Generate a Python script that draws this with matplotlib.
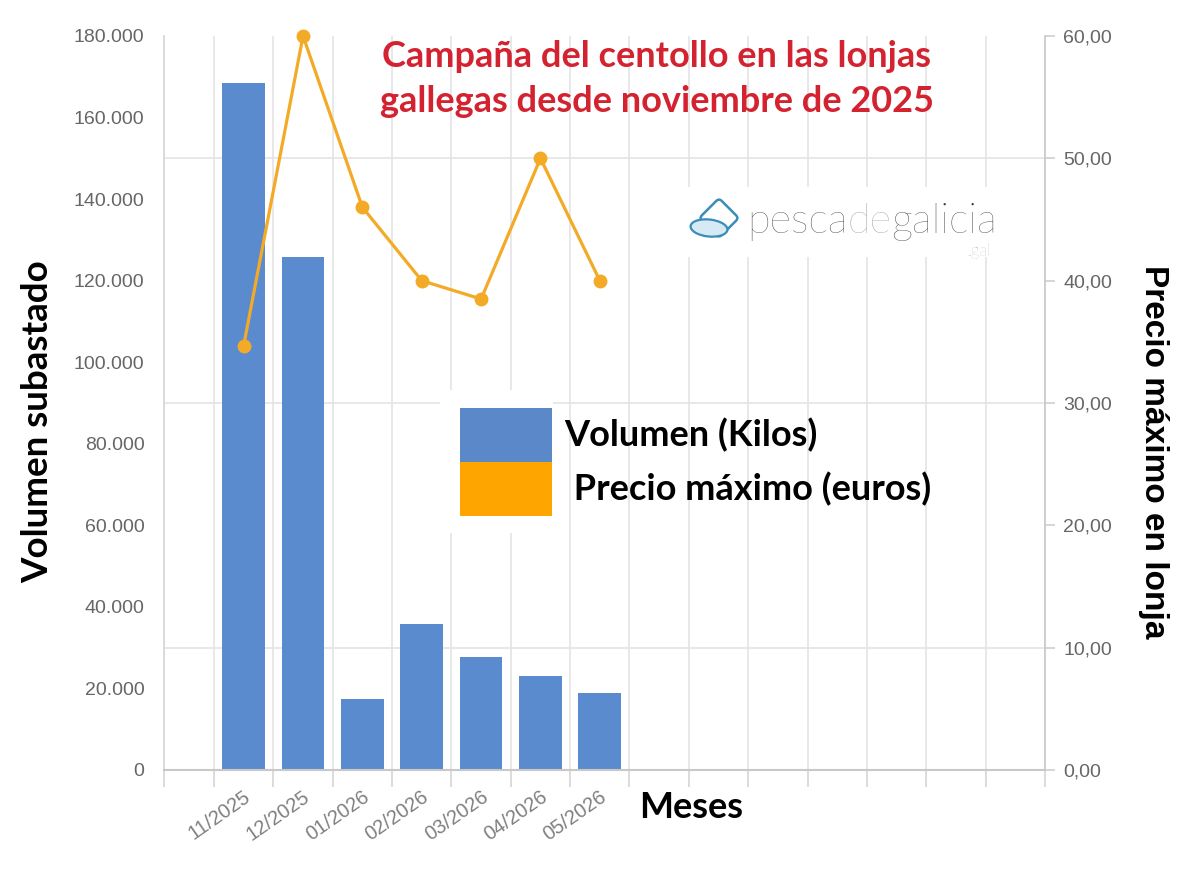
import numpy as np
import matplotlib
matplotlib.use("Agg")
import matplotlib.pyplot as plt
import matplotlib.transforms as mtrans
from matplotlib.ticker import FixedLocator, MultipleLocator, FuncFormatter
from matplotlib.patches import Patch, Rectangle, FancyBboxPatch, Ellipse
from matplotlib.offsetbox import TextArea, HPacker, AnnotationBbox

# ---------------- data ----------------
months = ["11/2025", "12/2025", "01/2026", "02/2026", "03/2026", "04/2026", "05/2026"]
volumen = [168500, 125800, 17500, 35900, 27700, 23100, 18900]
precio = [34.7, 60.0, 46.0, 40.0, 38.5, 50.0, 40.0]

title = "Campaña del centollo en las lonjas\ngallegas desde noviembre de 2025"
ylabel_left = "Volumen subastado"
ylabel_right = "Precio máximo en lonja"
xlabel = "Meses"
legend_labels = ["Volumen (Kilos)", " Precio máximo (euros)"]

# ---------------- style ----------------
BLUE = "#5B8BCF"
ORANGE = "#F3AA26"
LEG_BLUE = "#5A88C9"
LEG_ORANGE = "#FFA500"
GRID = "#E4E4E4"
TICKC = "#666666"
RED = "#D42330"

W, H = 1200, 873
fig = plt.figure(figsize=(W / 100, H / 100), dpi=100)
PX = mtrans.Affine2D().scale(1 / W, 1 / H) + fig.transFigure


def fy(y):
    return H - y


ax = fig.add_axes([164 / W, 1 - 770 / H, (1045 - 164) / W, (770 - 36) / H])

n_slots = 14
left_extra = 50 / 59.36
x = np.arange(len(months))

ax.bar(x, volumen, width=0.72, color=BLUE, zorder=2)
ax.set_ylim(0, 180000)
ax.set_xlim(-0.5 - left_extra, n_slots - 0.5)
ax.set_axisbelow(True)

# y axis (left)
ax.yaxis.set_major_locator(MultipleLocator(20000))
ax.yaxis.set_minor_locator(MultipleLocator(30000))
ax.yaxis.set_major_formatter(FuncFormatter(lambda v, p: f"{int(round(v)):,}".replace(",", ".")))
ax.tick_params(axis="y", which="major", length=0, pad=14, labelsize=14, labelcolor=TICKC)
ax.tick_params(axis="y", which="minor", length=0)
ax.grid(axis="y", which="minor", color=GRID, lw=1.2)
for lab in ax.get_yticklabels():
    lab.set_fontfamily("Liberation Sans")

# x axis
minor_x = [-0.5 - left_extra] + list(np.arange(-0.5, n_slots, 1.0))
ax.xaxis.set_minor_locator(FixedLocator(minor_x))
ax.set_xticks(x)
ax.set_xticklabels(months, rotation=35, ha="right", va="center", rotation_mode="anchor",
                   fontsize=14.5, color="#808080", family="Liberation Sans")
ax.tick_params(axis="x", which="major", length=0, pad=18)
ax.tick_params(axis="x", which="minor", length=12.5, color="#D6D6D6", width=1.2, direction="out")
ax.grid(axis="x", which="minor", color=GRID, lw=1.2)
offset = mtrans.ScaledTranslation(5 / 100, 0, fig.dpi_scale_trans)
for lab in ax.get_xticklabels():
    lab.set_transform(lab.get_transform() + offset)

ax.spines["top"].set_visible(False)
ax.spines["right"].set_visible(False)
ax.spines["bottom"].set_color("#C8C8C8")
ax.spines["bottom"].set_linewidth(1.5)
ax.spines["left"].set_color("#D6D6D6")
ax.spines["left"].set_linewidth(1.2)

# secondary axis (price)
ax2 = ax.twinx()
ax2.plot(x, precio, color=ORANGE, lw=2.3, marker="o", ms=9, zorder=3, clip_on=False)
ax2.set_ylim(0, 60)
ax2.yaxis.set_major_locator(MultipleLocator(10))
ax2.yaxis.set_major_formatter(FuncFormatter(lambda v, p: f"{v:.2f}".replace(".", ",")))
ax2.tick_params(axis="y", length=7, color="#D0D0D0", width=1.2, pad=6, labelsize=14, labelcolor=TICKC)
for lab in ax2.get_yticklabels():
    lab.set_fontfamily("Liberation Sans")
for s in ["top", "left", "bottom"]:
    ax2.spines[s].set_visible(False)
ax2.spines["right"].set_color("#C8C8C8")
ax2.spines["right"].set_linewidth(1.2)

# white boxes (behind legend keys and logo)
ax.add_patch(Rectangle((440, fy(533)), 113, 143, transform=PX, facecolor="white",
                       edgecolor="none", zorder=1))
ax.add_patch(Rectangle((680, fy(257)), 330, 70, transform=PX, facecolor="white",
                       edgecolor="none", zorder=1))

# legend: square keys stacked without gap
fs_leg = 26
fs_px = fs_leg * 100 / 72
key_w, key_h = 92, 54
hh = (key_h / fs_px - 0.245) / 0.65
handles = [Patch(facecolor=LEG_BLUE, edgecolor="none"), Patch(facecolor=LEG_ORANGE, edgecolor="none")]
leg = ax2.legend(handles, legend_labels, loc="upper left",
                 bbox_to_anchor=(460 / W, 1 - 408 / H), bbox_transform=fig.transFigure,
                 frameon=False, borderpad=0, borderaxespad=0, labelspacing=0,
                 handlelength=key_w / fs_px, handleheight=hh,
                 handletextpad=0.35,
                 prop=dict(family="Lato", weight="bold", size=fs_leg))

# titles
fig.text(657 / W, 1 - 79 / H, title, ha="center", va="center", color=RED,
         fontsize=26, family="Lato", weight="bold", linespacing=1.45)
fig.text(38 / W, 1 - 422 / H, ylabel_left, rotation=90, ha="center", va="center",
         fontsize=26.5, family="Lato", weight="bold", color="black")
fig.text(1153 / W, 1 - 452 / H, ylabel_right, rotation=270, ha="center", va="center",
         fontsize=24, family="Liberation Sans", weight="bold", color="black")
fig.text(691 / W, 1 - 808 / H, xlabel, ha="center", va="center",
         fontsize=26, family="Lato", weight="bold", color="black")

# logo
tp = dict(fontsize=30, family="Lato", weight="light")
box = HPacker(children=[TextArea("pesca", textprops=dict(color="#3C3C3C", **tp)),
                        TextArea("de", textprops=dict(color="#9A9A9A", **tp)),
                        TextArea("galicia", textprops=dict(color="#3C3C3C", **tp))],
              align="baseline", pad=0, sep=0)
ab = AnnotationBbox(box, (747 / W, 1 - 241 / H), xycoords="figure fraction",
                    box_alignment=(0, 0), frameon=False, pad=0)
fig.add_artist(ab)
fig.text(991 / W, 1 - 251 / H, ".gal", ha="right", va="center", fontsize=12,
         color="#AAAAAA", family="Lato", weight="light")

cx, cy = 719, fy(218)
rot = mtrans.Affine2D().rotate_deg_around(cx, cy, 45) + PX
fig.add_artist(FancyBboxPatch((cx - 12, cy - 12), 24, 24, boxstyle="round,pad=2,rounding_size=4",
                              transform=rot, facecolor="none", edgecolor="#3A8DB8", lw=1.8))
fig.add_artist(Ellipse((709, fy(228)), 37, 17, angle=-6, transform=PX,
                       facecolor="#D5EAF5", edgecolor="#3A8DB8", lw=1.6))

fig.savefig("out.png", dpi=100, facecolor="white")
